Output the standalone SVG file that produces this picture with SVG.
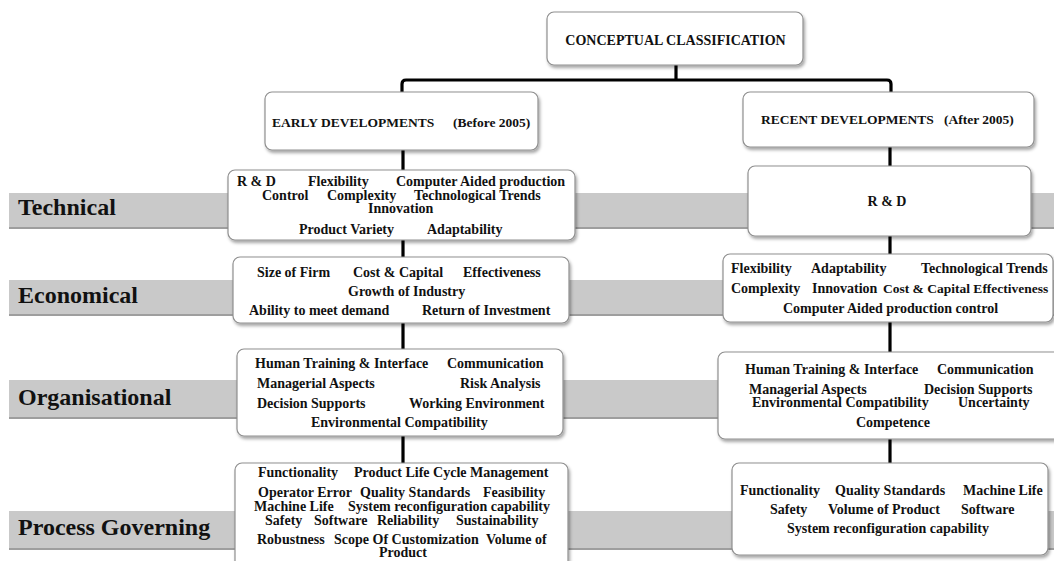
<svg xmlns="http://www.w3.org/2000/svg" width="1054" height="561" viewBox="0 0 1054 561">
<style>
.band{fill:#c9c9c9}
.bandedge{stroke:#9e9e9e;stroke-width:2}
.box{fill:#fff;stroke:#8f8f8f;stroke-width:1.2;filter:url(#sh)}
.t{font-family:"Liberation Serif","Times New Roman",serif;font-weight:bold;font-size:14px;fill:#111}
.h{font-size:13.5px}
.cat{font-family:"Liberation Serif","Times New Roman",serif;font-weight:bold;font-size:24px;fill:#111}
.c{fill:none;stroke:#000;stroke-width:3.2;stroke-linejoin:round}
</style>
<defs>
<filter id="sh" x="-10%" y="-10%" width="120%" height="130%">
<feDropShadow dx="1.5" dy="2.5" stdDeviation="1.5" flood-color="#000" flood-opacity="0.35"/>
</filter>
</defs>
<rect width="1054" height="561" fill="#fff"/>
<g id="bands">
<rect class="band" x="9" y="193" width="1045" height="35"/>
<line class="bandedge" x1="9" y1="228" x2="1054" y2="228"/>
<rect class="band" x="9" y="280" width="1045" height="35"/>
<line class="bandedge" x1="9" y1="315" x2="1054" y2="315"/>
<rect class="band" x="9" y="380" width="1045" height="38"/>
<line class="bandedge" x1="9" y1="418" x2="1054" y2="418"/>
<rect class="band" x="9" y="511" width="1045" height="38"/>
<line class="bandedge" x1="9" y1="549" x2="1054" y2="549"/>
</g>
<g id="categories">
<text class="cat" x="18" y="215">Technical</text>
<text class="cat" x="18" y="303">Economical</text>
<text class="cat" x="18" y="405">Organisational</text>
<text class="cat" x="18" y="535">Process Governing</text>
</g>
<g id="connectors">
<path class="c" d="M676 65 V80"/>
<path class="c" d="M402 93 V84 Q402 80 406 80 H887 Q891 80 891 84 V93"/>
<path class="c" d="M403 150 V170"/>
<path class="c" d="M403 240 V257"/>
<path class="c" d="M403 323 V349"/>
<path class="c" d="M403 436 V463"/>
<path class="c" d="M890 147 V166"/>
<path class="c" d="M890 236 V254"/>
<path class="c" d="M890 322 V352"/>
<path class="c" d="M890 439 V463"/>
</g>
<g id="title">
<rect class="box" x="547" y="12" width="256" height="53" rx="7"/>
<text class="t" x="675.5" y="45" text-anchor="middle">CONCEPTUAL CLASSIFICATION</text>
</g>
<g id="early">
<rect class="box" x="265" y="92" width="273" height="58" rx="7"/>
<text class="t h" x="272" y="127">EARLY DEVELOPMENTS</text>
<text class="t h" x="453" y="127">(Before 2005)</text>
</g>
<g id="recent">
<rect class="box" x="743" y="92" width="291" height="55" rx="7"/>
<text class="t h" x="761" y="124">RECENT DEVELOPMENTS</text>
<text class="t h" x="944" y="124">(After 2005)</text>
</g>
<g id="technical-early">
<rect class="box" x="228" y="170" width="347" height="70" rx="7"/>
<text class="t" x="237" y="186">R &amp; D</text>
<text class="t" x="308" y="186">Flexibility</text>
<text class="t" x="396" y="186">Computer Aided production</text>
<text class="t" x="262" y="200">Control</text>
<text class="t" x="327" y="200">Complexity</text>
<text class="t" x="414" y="200">Technological Trends</text>
<text class="t" x="368" y="213">Innovation</text>
<text class="t" x="299" y="234">Product Variety</text>
<text class="t" x="427" y="234">Adaptability</text>
</g>
<g id="technical-recent">
<rect class="box" x="748" y="166" width="283" height="70" rx="7"/>
<text class="t" x="887" y="206" text-anchor="middle">R &amp; D</text>
</g>
<g id="economical-early">
<rect class="box" x="233" y="257" width="336" height="66" rx="7"/>
<text class="t" x="257" y="277">Size of Firm</text>
<text class="t" x="353" y="277">Cost &amp; Capital</text>
<text class="t" x="463" y="277">Effectiveness</text>
<text class="t" x="348" y="296">Growth of Industry</text>
<text class="t" x="249" y="315">Ability to meet  demand</text>
<text class="t" x="422" y="315">Return  of Investment</text>
</g>
<g id="economical-recent">
<rect class="box" x="723" y="254" width="330" height="68" rx="7"/>
<text class="t" x="731" y="273">Flexibility</text>
<text class="t" x="811" y="273">Adaptability</text>
<text class="t" x="921" y="273">Technological Trends</text>
<text class="t" x="731" y="293">Complexity</text>
<text class="t" x="812" y="293">Innovation</text>
<text class="t" x="883" y="293" style="font-size:13.5px">Cost &amp; Capital Effectiveness</text>
<text class="t" x="783" y="313">Computer Aided production control</text>
</g>
<g id="organisational-early">
<rect class="box" x="237" y="349" width="326" height="87" rx="7"/>
<text class="t" x="255" y="368">Human Training  &amp; Interface</text>
<text class="t" x="447" y="368">Communication</text>
<text class="t" x="257" y="388">Managerial  Aspects</text>
<text class="t" x="460" y="388">Risk Analysis</text>
<text class="t" x="257" y="408">Decision Supports</text>
<text class="t" x="409" y="408">Working Environment</text>
<text class="t" x="311" y="427">Environmental  Compatibility</text>
</g>
<g id="organisational-recent">
<rect class="box" x="718" y="352" width="345" height="87" rx="7"/>
<text class="t" x="745" y="374">Human Training &amp; Interface</text>
<text class="t" x="937" y="374">Communication</text>
<text class="t" x="749" y="394">Managerial Aspects</text>
<text class="t" x="924" y="394">Decision Supports</text>
<text class="t" x="752" y="407">Environmental Compatibility</text>
<text class="t" x="958" y="407">Uncertainty</text>
<text class="t" x="856" y="427">Competence</text>
</g>
<g id="process-early">
<rect class="box" x="235" y="463" width="333" height="110" rx="7"/>
<text class="t" x="258" y="477">Functionality</text>
<text class="t" x="354" y="477">Product Life Cycle Management</text>
<text class="t" x="258" y="497">Operator Error</text>
<text class="t" x="360" y="497">Quality Standards</text>
<text class="t" x="483" y="497">Feasibility</text>
<text class="t" x="254" y="511">Machine Life</text>
<text class="t" x="348" y="511">System reconfiguration capability</text>
<text class="t" x="265" y="525">Safety</text>
<text class="t" x="314" y="525">Software</text>
<text class="t" x="377" y="525">Reliability</text>
<text class="t" x="456" y="525">Sustainability</text>
<text class="t" x="257" y="544">Robustness</text>
<text class="t" x="334" y="544">Scope Of Customization</text>
<text class="t" x="486" y="544">Volume of</text>
<text class="t" x="379" y="557">Product</text>
</g>
<g id="process-recent">
<rect class="box" x="732" y="463" width="316" height="92" rx="7"/>
<text class="t" x="740" y="495">Functionality</text>
<text class="t" x="835" y="495">Quality Standards</text>
<text class="t" x="963" y="495">Machine Life</text>
<text class="t" x="770" y="514">Safety</text>
<text class="t" x="828" y="514">Volume of Product</text>
<text class="t" x="961" y="514">Software</text>
<text class="t" x="787" y="533">System reconfiguration  capability</text>
</g>
</svg>
